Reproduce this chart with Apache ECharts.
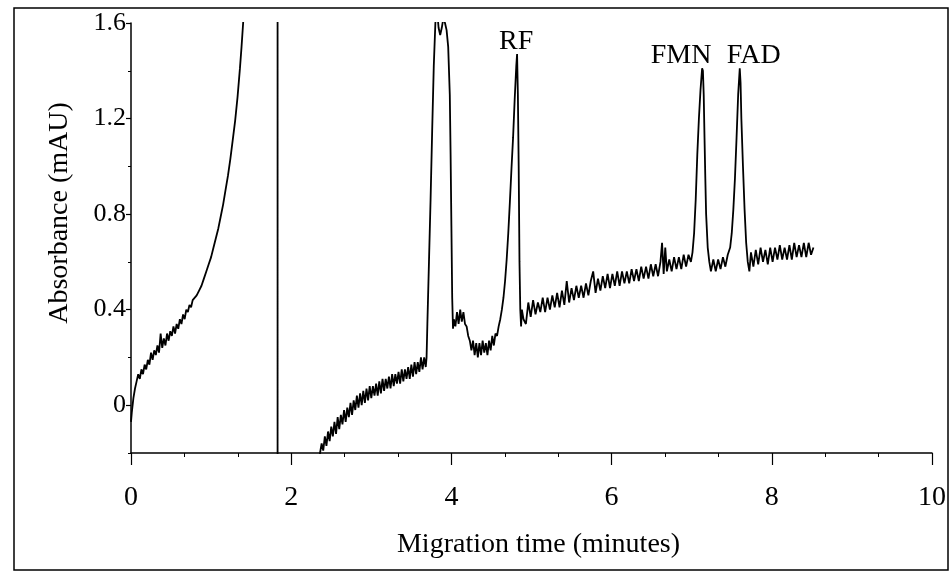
<!DOCTYPE html>
<html>
<head>
<meta charset="utf-8">
<title>Electropherogram</title>
<script src="https://cdn.jsdelivr.net/npm/echarts@6/dist/echarts.min.js"></script>
<style>
  html, body { margin: 0; padding: 0; background: #fff; }
  #main { width: 949px; height: 574px; }
</style>
</head>
<body>
<div id="main"></div>
<script>
// 读图得到的数据：时间(min) / 吸光度(mAU)
var solventFront = [
  [0.00,-0.07],[0.01,-0.03],[0.03,0.03],[0.05,0.07],[0.07,0.1],[0.09,0.13],[0.11,0.11],[0.13,0.15],
  [0.15,0.13],[0.17,0.17],[0.19,0.15],[0.21,0.19],[0.23,0.17],[0.25,0.22],[0.27,0.19],[0.29,0.23],
  [0.31,0.21],[0.33,0.25],[0.35,0.22],[0.37,0.3],[0.39,0.24],[0.41,0.28],[0.43,0.25],[0.45,0.3],
  [0.47,0.27],[0.49,0.31],[0.51,0.29],[0.53,0.33],[0.55,0.3],[0.57,0.34],[0.59,0.32],[0.61,0.36],
  [0.63,0.34],[0.65,0.38],[0.67,0.36],[0.69,0.4],[0.71,0.39],[0.73,0.42],[0.75,0.41],[0.77,0.44],
  [0.79,0.44],[0.82,0.46],[0.85,0.48],[0.88,0.5],[0.91,0.53],[0.94,0.56],[0.97,0.59],[1.00,0.62],
  [1.03,0.66],[1.06,0.7],[1.09,0.74],[1.12,0.79],[1.15,0.84],[1.18,0.9],[1.21,0.96],[1.24,1.03],
  [1.27,1.11],[1.30,1.19],[1.33,1.29],[1.36,1.41],[1.38,1.5],[1.40,1.6],[1.42,1.75],[1.45,1.9]
];
// 超出量程的部分（被坐标系裁掉）
var offScale = [[1.83,1.9],[1.83,-0.4],[2.34,-0.4]];
var systemPeak = [
  [2.36,-0.2],[2.38,-0.16],[2.40,-0.19],[2.42,-0.13],[2.44,-0.17],[2.46,-0.11],[2.48,-0.15],[2.50,-0.09],
  [2.52,-0.13],[2.54,-0.07],[2.56,-0.12],[2.58,-0.05],[2.60,-0.1],[2.62,-0.04],[2.64,-0.08],[2.66,-0.02],
  [2.68,-0.07],[2.70,-0.01],[2.72,-0.05],[2.74,0.01],[2.76,-0.04],[2.78,0.02],[2.80,-0.02],[2.82,0.04],
  [2.84,-0.01],[2.86,0.05],[2.88,0.0],[2.90,0.06],[2.92,0.01],[2.94,0.07],[2.96,0.02],[2.98,0.08],
  [3.00,0.03],[3.02,0.08],[3.04,0.04],[3.06,0.09],[3.08,0.04],[3.10,0.1],[3.12,0.05],[3.14,0.11],
  [3.16,0.06],[3.18,0.11],[3.20,0.07],[3.22,0.12],[3.24,0.07],[3.26,0.13],[3.28,0.08],[3.30,0.13],
  [3.32,0.09],[3.34,0.14],[3.36,0.09],[3.38,0.15],[3.40,0.1],[3.42,0.15],[3.44,0.11],[3.46,0.16],
  [3.48,0.11],[3.50,0.17],[3.52,0.12],[3.54,0.18],[3.56,0.13],[3.58,0.18],[3.60,0.14],[3.62,0.2],
  [3.64,0.15],[3.66,0.2],[3.68,0.16],[3.69,0.2],[3.70,0.34],[3.72,0.6],[3.74,0.86],[3.76,1.15],
  [3.78,1.42],[3.80,1.6],[3.82,1.66],[3.84,1.58],[3.86,1.55],[3.88,1.58],[3.90,1.62],[3.92,1.6],
  [3.94,1.57],[3.96,1.5],[3.98,1.3],[3.99,1.05],[4.00,0.75],[4.01,0.45],[4.02,0.32],[4.03,0.36]
];
var rfRegion = [
  [4.05,0.33],[4.07,0.39],[4.09,0.34],[4.11,0.4],[4.13,0.35],[4.15,0.39],[4.17,0.34],[4.19,0.33],
  [4.21,0.29],[4.23,0.27],[4.25,0.23],[4.27,0.27],[4.29,0.21],[4.31,0.26],[4.33,0.2],[4.35,0.26],
  [4.37,0.21],[4.39,0.27],[4.41,0.22],[4.43,0.26],[4.45,0.21],[4.47,0.27],[4.49,0.23],[4.51,0.29],
  [4.53,0.25],[4.55,0.3],[4.57,0.29],[4.59,0.33],[4.61,0.36],[4.63,0.4],[4.65,0.45],[4.67,0.52],
  [4.69,0.61],[4.71,0.72],[4.73,0.85],[4.75,0.99],[4.77,1.12],[4.79,1.28],[4.81,1.42],[4.82,1.47],
  [4.83,1.3],[4.84,1.0],[4.85,0.6],[4.86,0.4],[4.87,0.33],[4.88,0.4],[4.90,0.36]
];
var baseline = [
  [4.93,0.34],[4.96,0.43],[4.99,0.37],[5.02,0.44],[5.05,0.38],[5.08,0.43],[5.11,0.39],[5.14,0.45],
  [5.17,0.39],[5.20,0.45],[5.23,0.4],[5.26,0.46],[5.29,0.41],[5.32,0.47],[5.35,0.41],[5.38,0.48],
  [5.41,0.42],[5.44,0.52],[5.47,0.43],[5.50,0.49],[5.53,0.44],[5.56,0.5],[5.59,0.45],[5.62,0.5],
  [5.65,0.45],[5.68,0.51],[5.71,0.46],[5.74,0.52],[5.77,0.56],[5.80,0.47],[5.83,0.53],[5.86,0.48],
  [5.89,0.54],[5.92,0.49],[5.95,0.55],[5.98,0.49],[6.01,0.55],[6.04,0.5],[6.07,0.56],[6.10,0.5],
  [6.13,0.56],[6.16,0.51],[6.19,0.56],[6.22,0.51],[6.25,0.57],[6.28,0.52],[6.31,0.57],[6.34,0.52],
  [6.37,0.58],[6.40,0.53],[6.43,0.58],[6.46,0.53],[6.49,0.59],[6.52,0.54],[6.55,0.59],[6.58,0.54],
  [6.61,0.6],[6.63,0.68],[6.65,0.55],[6.67,0.66],[6.69,0.56],[6.72,0.61],[6.75,0.56],[6.78,0.62],
  [6.81,0.57],[6.84,0.62],[6.87,0.57],[6.90,0.63],[6.93,0.58],[6.96,0.63],[6.99,0.6]
];
var flavinPeaks = [
  [7.01,0.64],[7.03,0.72],[7.05,0.86],[7.07,1.05],[7.09,1.2],[7.11,1.32],[7.13,1.41],[7.14,1.4],
  [7.15,1.3],[7.16,1.12],[7.17,0.95],[7.18,0.8],[7.20,0.66],[7.22,0.6],[7.24,0.56],[7.27,0.61],
  [7.30,0.56],[7.33,0.61],[7.36,0.57],[7.39,0.62],[7.42,0.58],[7.45,0.63],[7.48,0.66],[7.50,0.72],
  [7.52,0.82],[7.54,0.95],[7.56,1.12],[7.58,1.3],[7.60,1.41],[7.61,1.35],[7.62,1.2],[7.64,1.0],
  [7.66,0.82],[7.68,0.68],[7.70,0.6],[7.72,0.56],[7.74,0.64],[7.77,0.58],[7.80,0.65],[7.83,0.59],
  [7.86,0.66],[7.89,0.6],[7.92,0.65],[7.95,0.59],[7.98,0.66],[8.01,0.6],[8.04,0.66],[8.07,0.61],
  [8.10,0.67],[8.13,0.61],[8.16,0.66],[8.19,0.61],[8.22,0.67],[8.25,0.61],[8.28,0.68],[8.31,0.62],
  [8.34,0.67],[8.37,0.62],[8.40,0.68],[8.43,0.62],[8.46,0.68],[8.49,0.63],[8.52,0.66]
];

var peakNames = ['RF', 'FMN', 'FAD'];
var peakTimes = [4.82, 7.13, 7.60];
var peakHeights = [1.47, 1.41, 1.41];
var peakLabelOffsets = [[-1, -12], [-21, -13], [14, -13]];

var yLabelValues = [0, 0.4, 0.8, 1.2, 1.6];
var yMinorValues = [-0.2, 0.2, 0.6, 1.0, 1.4];

var trace = solventFront.concat(offScale, systemPeak, rfRegion, baseline, flavinPeaks);

var serif = '"Liberation Serif", "DejaVu Serif", serif';

var peakMarks = [];
for (var i = 0; i < peakNames.length; i++) {
  peakMarks.push({
    name: peakNames[i],
    coord: [peakTimes[i], peakHeights[i]],
    label: { offset: peakLabelOffsets[i] }
  });
}

var myChart = echarts.init(document.getElementById('main'));
myChart.setOption({
  animation: false,
  backgroundColor: '#fff',
  grid: {
    left: 131,
    right: 17,
    top: 23,
    bottom: 121,
    containLabel: false,
    outerBoundsMode: 'none'
  },
  xAxis: {
    type: 'value',
    min: 0,
    max: 10,
    interval: 2,
    name: 'Migration time (minutes)',
    nameLocation: 'middle',
    nameGap: 78,
    nameTextStyle: { fontFamily: serif, fontSize: 28, color: '#000', padding: [0, 0, 0, 14] },
    axisLine: { onZero: false, lineStyle: { color: '#000', width: 1.5 } },
    axisTick: { length: 12, lineStyle: { color: '#000', width: 1.2 } },
    minorTick: { show: true, splitNumber: 3, length: 4, lineStyle: { color: '#000', width: 1 } },
    axisLabel: { fontFamily: serif, fontSize: 28, color: '#000', margin: 31 },
    splitLine: { show: false },
    minorSplitLine: { show: false }
  },
  yAxis: [{
    type: 'value',
    position: 'left',
    min: -0.2,
    max: 1.6,
    name: 'Absorbance (mAU)',
    nameLocation: 'middle',
    nameGap: 57,
    nameTextStyle: { fontFamily: serif, fontSize: 28, color: '#000', padding: [0, 0, 0, 50] },
    axisLine: { show: true, onZero: false, lineStyle: { color: '#000', width: 1.5 } },
    axisTick: { show: true, length: 5, customValues: yLabelValues, lineStyle: { color: '#000', width: 1.2 } },
    axisLabel: {
      fontFamily: serif, fontSize: 26, color: '#000', margin: 5,
      customValues: yLabelValues,
      formatter: function (v) { return v === 0 ? '0' : v.toFixed(1); }
    },
    splitLine: { show: false }
  }, {
    // 次刻度
    type: 'value',
    position: 'left',
    offset: 0,
    min: -0.2,
    max: 1.6,
    axisLine: { show: false, onZero: false },
    axisTick: { show: true, length: 3, customValues: yMinorValues, lineStyle: { color: '#000', width: 1 } },
    axisLabel: { show: false },
    splitLine: { show: false }
  }],
  series: [{
    type: 'line',
    data: trace,
    showSymbol: false,
    clip: true,
    lineStyle: { color: '#000', width: 1.8 },
    itemStyle: { color: '#000' },
    markPoint: {
      symbol: 'circle',
      symbolSize: 0,
      label: {
        show: true,
        position: 'inside',
        formatter: '{b}',
        fontFamily: serif,
        fontSize: 28,
        color: '#000'
      },
      data: peakMarks
    }
  }],
  graphic: [{
    type: 'rect',
    shape: { x: 14, y: 8, width: 934, height: 562 },
    style: { fill: 'none', stroke: '#000', lineWidth: 1.5 },
    silent: true
  }]
});
</script>
</body>
</html>
